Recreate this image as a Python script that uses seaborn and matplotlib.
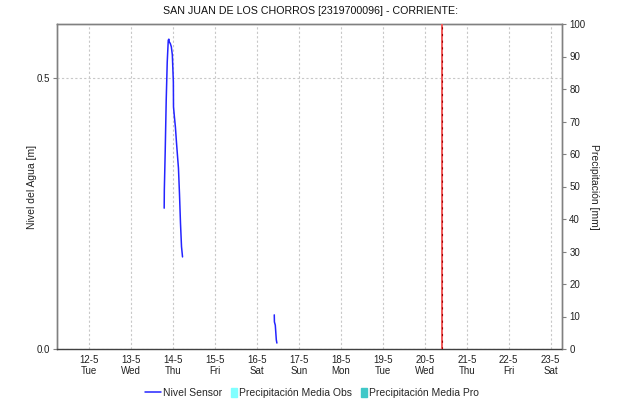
import matplotlib
matplotlib.use("Agg")
import matplotlib.pyplot as plt
import matplotlib.dates as mdates
from matplotlib.lines import Line2D
from matplotlib.patches import Patch, Rectangle
from matplotlib.legend_handler import HandlerPatch
import seaborn as sns
import pandas as pd
import numpy as np

# ---- data ----
title = "SAN JUAN DE LOS CHORROS [2319700096] - CORRIENTE:"
level_times = [
    "2020-05-13 18:50", "2020-05-13 18:55", "2020-05-13 19:25", "2020-05-13 20:00",
    "2020-05-13 20:35", "2020-05-13 21:10", "2020-05-13 21:30", "2020-05-13 21:45",
    "2020-05-13 22:20", "2020-05-13 22:55", "2020-05-13 23:30", "2020-05-14 00:05",
    "2020-05-14 00:10", "2020-05-14 00:40", "2020-05-14 01:15", "2020-05-14 01:50",
    "2020-05-14 02:25", "2020-05-14 03:00", "2020-05-14 03:35", "2020-05-14 04:10",
    "2020-05-14 04:45", "2020-05-14 05:20",
    "2020-05-16 09:50", "2020-05-16 09:55", "2020-05-16 10:25", "2020-05-16 11:00",
    "2020-05-16 11:20",
]
level_values = [
    0.260, 0.294, 0.364, 0.460, 0.530, 0.570, 0.572, 0.567, 0.564, 0.558, 0.543,
    0.493, 0.447, 0.429, 0.410, 0.383, 0.358, 0.334, 0.287, 0.232, 0.189, 0.170,
    0.063, 0.050, 0.044, 0.017, 0.011,
]
level_segment = [1] * 22 + [2] * 5
precip_obs_times = []
precip_obs_values = []
precip_pro_times = []
precip_pro_values = []
now_marker = "2020-05-20 09:40"
x_start, x_end = "2020-05-11 05:40", "2020-05-23 06:40"

df = pd.DataFrame({"time": pd.to_datetime(level_times),
                   "level": level_values,
                   "segment": level_segment})

# ---- figure ----
sns.set_style("white")
plt.rcParams["font.family"] = ["Liberation Sans", "DejaVu Sans"]
fig = plt.figure(figsize=(6.21, 4.03), dpi=100)
ax = fig.add_axes([57.3 / 621, 1 - 349 / 403, 505 / 621, 325 / 403])
ax2 = ax.twinx()

spine_col = "#808080"
grid_col = "#c8c8c8"

# precipitation (empty series)
ax2.bar(pd.to_datetime(precip_obs_times), precip_obs_values, color="#80ffff", width=0.04)
ax2.bar(pd.to_datetime(precip_pro_times), precip_pro_values, color="#40c8c8", width=0.04)
ax2.set_ylim(0, 100)
ax2.set_yticks(np.arange(0, 101, 10))

sns.lineplot(data=df, x="time", y="level", units="segment", estimator=None,
             color="#2424ff", lw=1.1, ax=ax, legend=False)
ax.set_zorder(ax2.get_zorder() + 1)
ax.patch.set_visible(False)

ax.set_xlim(pd.Timestamp(x_start), pd.Timestamp(x_end))
ax.set_ylim(0, 0.6)
ax.set_yticks([0.0, 0.5])
ax.yaxis.set_major_formatter(matplotlib.ticker.FormatStrFormatter("%.1f"))

ax.xaxis.set_major_locator(mdates.DayLocator())
def fmt(x, pos):
    d = mdates.num2date(x)
    return f"{d.day}-{d.month}\n{d:%a}"
ax.xaxis.set_major_formatter(matplotlib.ticker.FuncFormatter(fmt))

ax.grid(True, color=grid_col, linestyle=(0, (2, 2)), lw=0.8)
ax.axvline(pd.Timestamp(now_marker), color="#f05a5a", lw=1.4, zorder=5)
ax.axvline(pd.Timestamp(now_marker), color="#a00000", lw=0.8, ls=(0, (2, 4)), zorder=6)

for a in (ax, ax2):
    for s in a.spines.values():
        s.set_color(spine_col)
        s.set_linewidth(1.0)
    a.tick_params(length=3, width=0.8, color=spine_col, labelsize=7, pad=2,
                  labelcolor="#222222")
ax.spines["bottom"].set_color("#404040")
ax.spines["bottom"].set_linestyle((0, (1, 1)))
ax2.spines["bottom"].set_visible(False)
ax.tick_params(axis="x", labelsize=7, length=2)

ax.set_xlabel("")
ax.set_ylabel("Nivel del Agua [m]", fontsize=7.5, color="#222222", labelpad=0)
ax2.set_ylabel("Precipitación [mm]", fontsize=7.5, color="#222222", rotation=270,
               labelpad=10)
fig.text(0.5, 1 - 11 / 403, title, ha="center", va="center", fontsize=7.7,
         color="#111111")


def narrow_patch(legend, orig_handle, xdescent, ydescent, width, height, fontsize):
    w = 4.5
    return Rectangle((width - w - xdescent, -ydescent), w, height)


handles = [Line2D([0], [0], color="#2424ff", lw=1.1),
           Patch(color="#80ffff"), Patch(color="#40c8c8")]
labels = ["Nivel Sensor", "Precipitación Media Obs", "Precipitación Media Pro"]
fig.legend(handles, labels, loc="center", bbox_to_anchor=(0.502, 1 - 393 / 403),
           ncol=3, frameon=False, fontsize=7.5, handlelength=1.6,
           handleheight=1.0, handletextpad=0.2, columnspacing=-0.2,
           borderaxespad=0,
           handler_map={Patch: HandlerPatch(patch_func=narrow_patch)})

fig.savefig("out.png", dpi=100)
